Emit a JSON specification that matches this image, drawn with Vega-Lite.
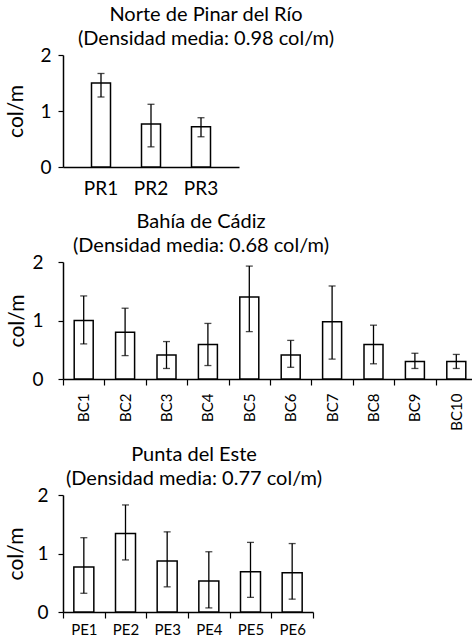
{
  "$schema": "https://vega.github.io/schema/vega-lite/v6.json",
  "padding": {"left": 5, "top": 5, "right": 0, "bottom": 0},
  "background": "white",
  "spacing": 14,
  "config": {
    "font": "Lato",
    "view": {"stroke": null},
    "title": {"fontSize": 20, "fontWeight": "normal", "color": "black", "lineHeight": 24, "anchor": "middle", "offset": -3},
    "axis": {"domainColor": "black", "tickColor": "black", "labelColor": "black", "titleColor": "black", "grid": false, "domainWidth": 1.5, "tickWidth": 1.2, "titleFontWeight": "normal", "titleFontSize": 21, "labelFontSize": 19}
  },
  "datasets": {
    "pr": [
      {"site": "PR1", "value": 1.5, "lo": 1.25, "hi": 1.67},
      {"site": "PR2", "value": 0.77, "lo": 0.36, "hi": 1.12},
      {"site": "PR3", "value": 0.72, "lo": 0.54, "hi": 0.88}
    ],
    "bc": [
      {"site": "BC1", "value": 1.0, "lo": 0.6, "hi": 1.42},
      {"site": "BC2", "value": 0.8, "lo": 0.4, "hi": 1.21},
      {"site": "BC3", "value": 0.41, "lo": 0.18, "hi": 0.64},
      {"site": "BC4", "value": 0.59, "lo": 0.23, "hi": 0.95},
      {"site": "BC5", "value": 1.4, "lo": 0.81, "hi": 1.93},
      {"site": "BC6", "value": 0.41, "lo": 0.2, "hi": 0.66},
      {"site": "BC7", "value": 0.98, "lo": 0.34, "hi": 1.59},
      {"site": "BC8", "value": 0.59, "lo": 0.26, "hi": 0.92},
      {"site": "BC9", "value": 0.3, "lo": 0.18, "hi": 0.44},
      {"site": "BC10", "value": 0.3, "lo": 0.18, "hi": 0.42}
    ],
    "pe": [
      {"site": "PE1", "value": 0.77, "lo": 0.32, "hi": 1.27},
      {"site": "PE2", "value": 1.34, "lo": 0.89, "hi": 1.83},
      {"site": "PE3", "value": 0.87, "lo": 0.43, "hi": 1.37},
      {"site": "PE4", "value": 0.53, "lo": 0.07, "hi": 1.03},
      {"site": "PE5", "value": 0.69, "lo": 0.25, "hi": 1.19},
      {"site": "PE6", "value": 0.67, "lo": 0.22, "hi": 1.17}
    ]
  },
  "vconcat": [
    {
      "title": {"text": ["Norte de Pinar del Río", "(Densidad media: 0.98 col/m)"], "dx": 55},
      "width": 176,
      "height": 112,
      "data": {"name": "pr"},
      "encoding": {
        "x": {"field": "site", "type": "nominal", "sort": null, "scale": {"paddingInner": 0, "paddingOuter": 0.26}, "axis": {"title": null, "labelAngle": 0, "ticks": false, "labelPadding": 12}}
      },
      "layer": [
        {"mark": {"type": "bar", "fill": "white", "stroke": "black", "strokeWidth": 1.5, "width": 19},
         "encoding": {"y": {"field": "value", "type": "quantitative", "scale": {"domain": [0, 2]}, "axis": {"values": [0, 1, 2], "format": ".0f", "labelOverlap": false, "title": "col/m", "tickSize": 5, "labelPadding": 7, "titlePadding": 13}}}},
        {"mark": {"type": "rule", "color": "black", "strokeWidth": 1.3},
         "encoding": {"y": {"field": "lo", "type": "quantitative"}, "y2": {"field": "hi"}}},
        {"mark": {"type": "tick", "color": "black", "thickness": 1.3, "size": 7},
         "encoding": {"y": {"field": "hi", "type": "quantitative"}}},
        {"mark": {"type": "tick", "color": "black", "thickness": 1.3, "size": 7},
         "encoding": {"y": {"field": "lo", "type": "quantitative"}}}
      ]
    },
    {
      "title": {"text": ["Bahía de Cádiz", "(Densidad media: 0.68 col/m)"], "dx": -69},
      "width": 414,
      "height": 117,
      "data": {"name": "bc"},
      "encoding": {
        "x": {"field": "site", "type": "nominal", "sort": null, "scale": {"paddingInner": 0, "paddingOuter": 0}, "axis": {"title": null, "labelAngle": -90, "labelFontSize": 15, "tickBand": "extent", "tickSize": 6, "labelPadding": 8}}
      },
      "layer": [
        {"mark": {"type": "bar", "fill": "white", "stroke": "black", "strokeWidth": 1.5, "width": 19},
         "encoding": {"y": {"field": "value", "type": "quantitative", "scale": {"domain": [0, 2]}, "axis": {"values": [0, 1, 2], "format": ".0f", "labelOverlap": false, "title": "col/m", "tickSize": 5, "labelPadding": 15, "titlePadding": 4}}}},
        {"mark": {"type": "rule", "color": "black", "strokeWidth": 1.3},
         "encoding": {"y": {"field": "lo", "type": "quantitative"}, "y2": {"field": "hi"}}},
        {"mark": {"type": "tick", "color": "black", "thickness": 1.3, "size": 7},
         "encoding": {"y": {"field": "hi", "type": "quantitative"}}},
        {"mark": {"type": "tick", "color": "black", "thickness": 1.3, "size": 7},
         "encoding": {"y": {"field": "lo", "type": "quantitative"}}}
      ]
    },
    {
      "title": {"text": ["Punta del Este", "(Densidad media: 0.77 col/m)"], "dx": 6},
      "width": 250,
      "height": 117,
      "data": {"name": "pe"},
      "encoding": {
        "x": {"field": "site", "type": "nominal", "sort": null, "scale": {"paddingInner": 0, "paddingOuter": 0}, "axis": {"title": null, "labelAngle": 0, "labelFontSize": 15, "tickBand": "extent", "tickSize": 6, "labelPadding": 4}}
      },
      "layer": [
        {"mark": {"type": "bar", "fill": "white", "stroke": "black", "strokeWidth": 1.5, "width": 20},
         "encoding": {"y": {"field": "value", "type": "quantitative", "scale": {"domain": [0, 2]}, "axis": {"values": [0, 1, 2], "format": ".0f", "labelOverlap": false, "title": "col/m", "tickSize": 5, "labelPadding": 10, "titlePadding": 10}}}},
        {"mark": {"type": "rule", "color": "black", "strokeWidth": 1.3},
         "encoding": {"y": {"field": "lo", "type": "quantitative"}, "y2": {"field": "hi"}}},
        {"mark": {"type": "tick", "color": "black", "thickness": 1.3, "size": 7},
         "encoding": {"y": {"field": "hi", "type": "quantitative"}}},
        {"mark": {"type": "tick", "color": "black", "thickness": 1.3, "size": 7},
         "encoding": {"y": {"field": "lo", "type": "quantitative"}}}
      ]
    }
  ]
}
